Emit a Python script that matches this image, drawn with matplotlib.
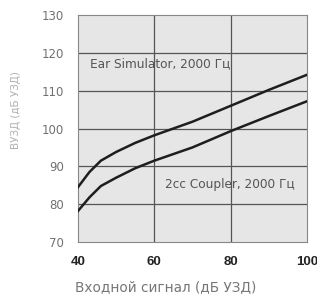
import matplotlib
matplotlib.use("Agg")
import matplotlib.pyplot as plt

plt.rcParams['font.family'] = ['DejaVu Sans']

# входной сигнал, дБ УЗД
x_in = [40, 43, 46, 50, 55, 60, 70, 80, 90, 100]
ear_sim = [84.5, 88.5, 91.5, 93.8, 96.2, 98.2, 101.8, 106.0, 110.2, 114.2]
coupler = [78.2, 81.8, 84.8, 87.0, 89.5, 91.5, 95.0, 99.3, 103.3, 107.2]

xticks = [40, 60, 80, 100]
yticks = [70, 80, 90, 100, 110, 120, 130]

fig = plt.figure(figsize=(3.17, 2.94), dpi=100)
ax = fig.add_axes([78/317, 1 - 242/294, 229/317, 227/294])
ax.set_facecolor('#e6e6e6')

for v in [60, 80]:
    ax.axvline(v, color='#555555', lw=0.9, zorder=1)
for v in yticks[1:-1]:
    ax.axhline(v, color='#555555', lw=0.9, zorder=1)

ax.plot(x_in, ear_sim, color='#1e1e1e', lw=1.8, zorder=3)
ax.plot(x_in, coupler, color='#1e1e1e', lw=1.8, zorder=3)

ax.text(43.1, 117, 'Ear Simulator, 2000 Гц', fontsize=8.7, color='#555555', va='center')
ax.text(62.7, 85.2, '2cc Coupler, 2000 Гц', fontsize=8.7, color='#555555', va='center')

ax.set_xlim(40, 100)
ax.set_ylim(70, 130)
ax.set_xticks(xticks)
ax.set_yticks(yticks)
ax.set_xticklabels([str(t) for t in xticks], fontsize=9.5, fontweight='bold',
                   color='#222222', family='Liberation Sans')
ax.set_yticklabels([str(t) for t in yticks], fontsize=8.5, color='#707070')
ax.tick_params(length=0, axis='x', pad=10)
ax.tick_params(length=0, axis='y', pad=10)
for s in ax.spines.values():
    s.set_color('#888888')
    s.set_linewidth(0.8)

fig.text(166/317, 1 - 287/294, 'Входной сигнал (дБ УЗД)', fontsize=9.8,
         color='#777777', ha='center', va='center')
fig.text(16/317, 1 - 110/294, 'ВУЗД (дБ УЗД)', rotation=90, fontsize=7.5,
         color='#b0b0b0', ha='center', va='center')

fig.savefig('out.png', dpi=100)
